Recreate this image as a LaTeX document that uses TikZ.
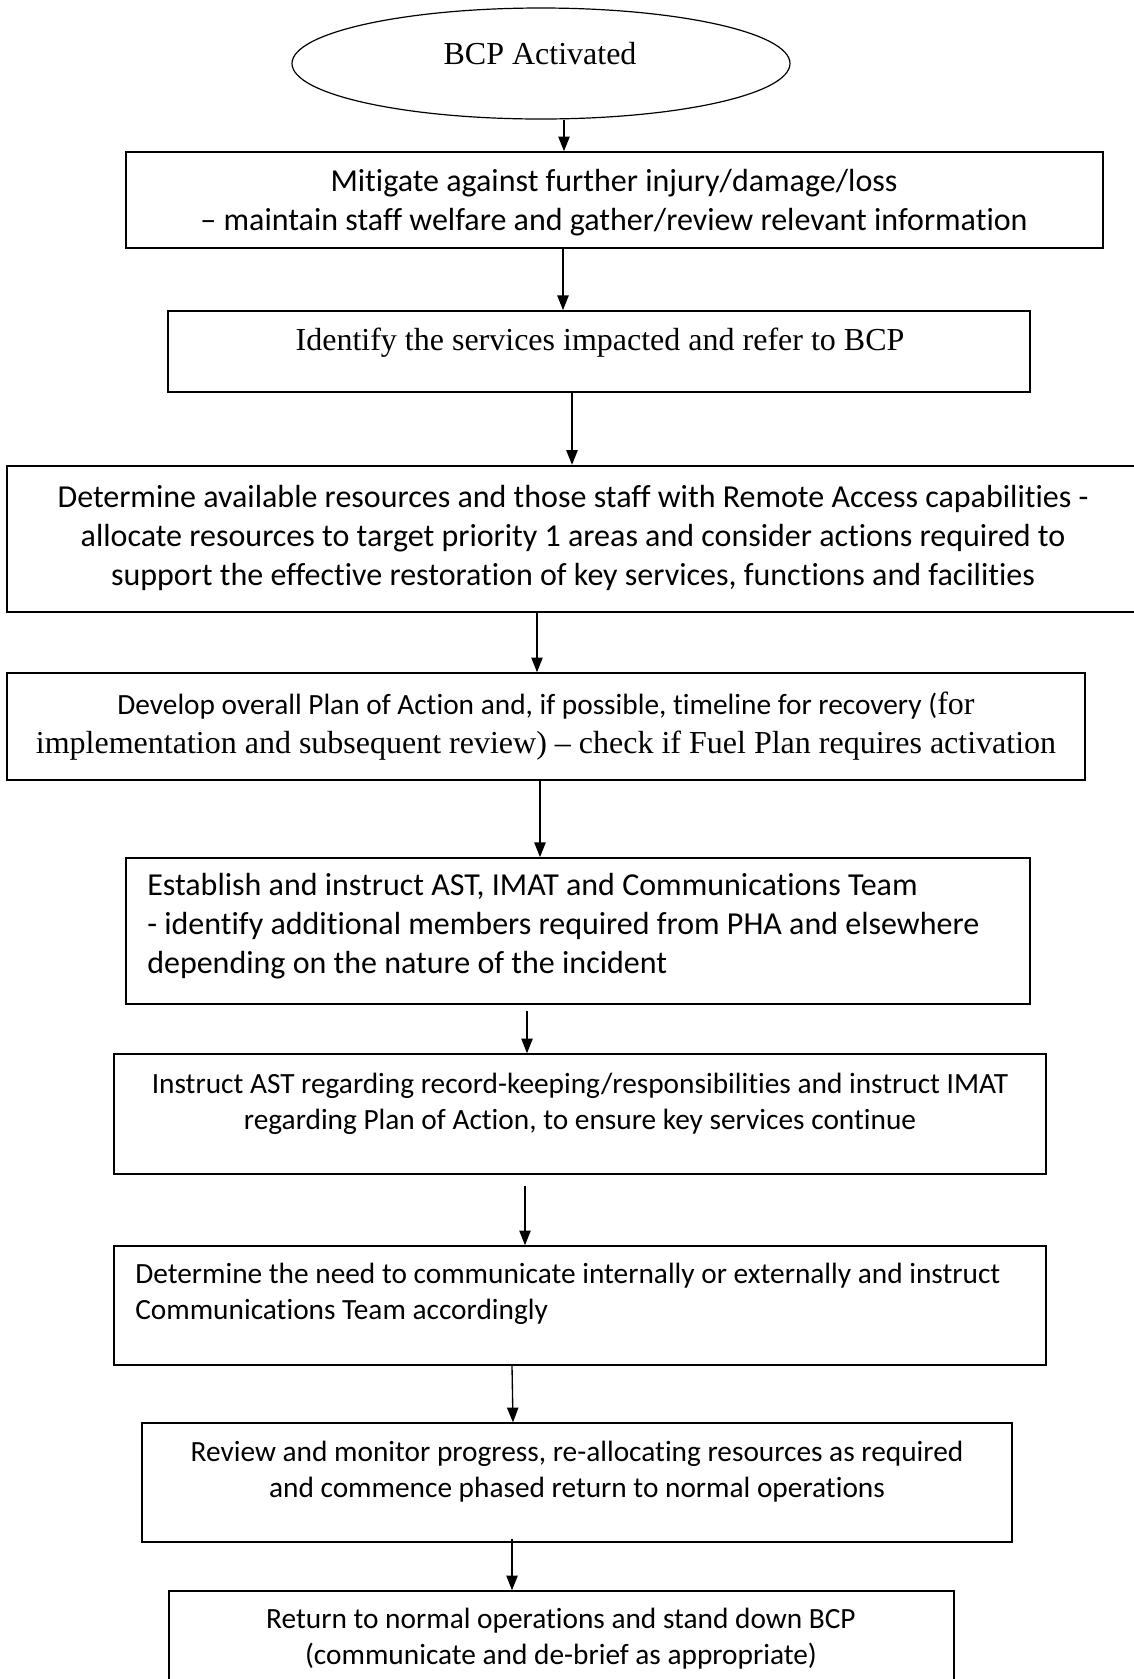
\documentclass[tikz,border=0pt]{standalone}
\usepackage{fontspec}
\setmainfont{Liberation Serif}
\setsansfont{Carlito}[Ligatures={NoCommon}]
\usetikzlibrary{arrows.meta,fit,calc,shapes.geometric}
\begin{document}
\begin{tikzpicture}[x=0.75pt,y=-0.75pt,
  box/.style={draw, line width=1.1pt, inner sep=0pt},
  arr/.style={-{Triangle[length=11pt,width=8.5pt]}, line width=1pt},
  sfbig/.style={font=\sffamily\fontsize{24}{29.3}\selectfont, inner sep=0pt},
  sfsmall/.style={font=\sffamily\fontsize{22}{27.2}\selectfont, inner sep=0pt},
  rmbig/.style={font=\rmfamily\fontsize{24}{29.3}\selectfont, inner sep=0pt}]
\useasboundingbox (0,0) rectangle (1134,1679);
\clip (0,0) rectangle (1134,1679);
\fill[white] (0,0) rectangle (1134,1679);

% shapes
\node[draw, ellipse, line width=0.9pt, minimum width=373.5pt, minimum height=83.25pt, inner sep=0pt] (ell) at (541,63.5) {};
\node[box, fit={(126,152) (1103,248)}] (b1) {};
\node[box, line width=1.4pt, fit={(168,311) (1030,392)}] (b2) {};
\node[box, line width=1.8pt, fit={(7,466) (1139,612)}] (b3) {};
\node[box, fit={(7,673) (1085,780)}] (b4) {};
\node[box, line width=1.3pt, fit={(126,858) (1030,1004)}] (b5) {};
\node[box, fit={(114,1054) (1046,1174)}] (b6) {};
\node[box, fit={(114,1246) (1046,1365)}] (b7) {};
\node[box, fit={(142,1423) (1012,1542)}] (b8) {};
\node[box, fit={(169,1591) (954,1720)}] (b9) {};

% texts
\node[rmbig] (t0) at (540,54) {BCP Activated};
\node[sfbig, align=center] (t1) at (614,203) {Mitigate against further injury/damage/loss\\– maintain staff welfare and gather/review relevant information};
\node[rmbig] (t2) at (600,343) {Identify the services impacted and refer to BCP};
\node[sfbig, align=center] (t3) at (573,538) {Determine available resources and those staff with Remote Access capabilities -\\allocate resources to target priority 1 areas and consider actions required to\\support the effective restoration of key services, functions and facilities};
\node[rmbig, align=center] (t4) at (546,726) {{\sffamily\fontsize{22}{29.3}\selectfont Develop overall Plan of Action and, if possible, timeline for recovery (}for\\implementation and subsequent review) – check if Fuel Plan requires activation};
\node[sfbig, align=left, anchor=west] (t5) at (147,926) {Establish and instruct AST, IMAT and Communications Team\\- identify additional members required from PHA and elsewhere\\depending on the nature of the incident};
\node[sfsmall, align=center] (t6) at (580,1104) {Instruct AST regarding record-keeping/responsibilities and instruct IMAT\\regarding Plan of Action, to ensure key services continue};
\node[sfsmall, align=left, anchor=west] (t7) at (135,1294) {Determine the need to communicate internally or externally and instruct\\Communications Team accordingly};
\node[sfsmall, align=center] (t8) at (577,1472) {Review and monitor progress, re-allocating resources as required\\and commence phased return to normal operations};
\node[sfsmall, align=center] (t9) at (561,1639) {Return to normal operations and stand down BCP\\(communicate and de-brief as appropriate)};

% connectors
\draw[arr] (564,0 |- ell.south) -- (564,0 |- b1.north);
\draw[arr] (563,0 |- b1.south) -- (563,0 |- b2.north);
\draw[arr] (572,0 |- b2.south) -- (572,0 |- b3.north);
\draw[arr] (537,0 |- b3.south) -- (537,0 |- b4.north);
\draw[arr] (540,0 |- b4.south) -- (540,0 |- b5.north);
\draw[arr] ($(527,0 |- b5.south)+(0,6)$) -- (527,0 |- b6.north);
\draw[arr] ($(525,0 |- b6.south)+(0,11)$) -- (525,0 |- b7.north);
\draw[arr] (512,0 |- b7.south) -- (513,0 |- b8.north);
\draw[arr] ($(512,0 |- b8.south)+(0,-4)$) -- (512,0 |- b9.north);
\end{tikzpicture}
\end{document}
